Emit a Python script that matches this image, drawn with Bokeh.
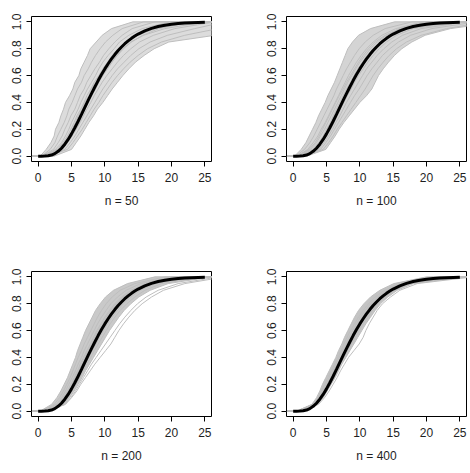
from bokeh.plotting import figure
from bokeh.layouts import gridplot
from bokeh.models import Range1d, FixedTicker, NumeralTickFormatter
from bokeh.embed import file_html
from bokeh.resources import INLINE

# Probability levels at which each empirical CDF is described
levels = [0.00, 0.05, 0.10, 0.15, 0.20, 0.25, 0.30, 0.35, 0.40, 0.45, 0.50,
          0.55, 0.60, 0.65, 0.70, 0.75, 0.80, 0.85, 0.90, 0.95, 1.00]

# Reference distribution function (thick black curve)
cdf_x = [0, 0.5, 1, 1.5, 2, 2.5, 3, 3.5, 4, 4.5, 5, 5.5, 6, 6.5, 7, 7.5, 8, 8.5,
         9, 9.5, 10, 10.5, 11, 11.5, 12, 12.5, 13, 13.5, 14, 14.5, 15, 16, 17,
         18, 19, 20, 21, 22, 23, 24, 25]
cdf_y = [0.0, 0.0000, 0.0006, 0.0028, 0.0081, 0.0186, 0.0357, 0.0589, 0.0889,
         0.1245, 0.1657, 0.2113, 0.2599, 0.3108, 0.3629, 0.4146, 0.4660, 0.5152,
         0.5627, 0.6074, 0.6495, 0.6882, 0.7243, 0.7566, 0.7867, 0.8131, 0.8374,
         0.8583, 0.8775, 0.8942, 0.9091, 0.9331, 0.9514, 0.9651, 0.9748, 0.9821,
         0.9874, 0.9911, 0.9938, 0.9957, 0.9970]

x_ticks = [0, 5, 10, 15, 20, 25]
y_ticks = [0.0, 0.2, 0.4, 0.6, 0.8, 1.0]
sample_sizes = [50, 100, 200, 400]

# Empirical CDFs: x position where each curve reaches every level in `levels`
ecdf_n50 = [
    [0.3, 1.2, 1.9, 2.4, 2.6, 3.1, 3.4, 3.8, 4.1, 4.7, 5.2, 5.5, 6.1, 6.4, 6.9, 7.4, 7.8, 8.7, 9.6, 11.0, 14.2],
    [0.5, 1.8, 2.5, 2.9, 3.4, 3.9, 4.3, 4.6, 5.1, 5.5, 5.9, 6.5, 6.9, 7.5, 8.0, 8.6, 9.3, 10.1, 11.2, 12.6, 15.8],
    [0.6, 2.3, 3.0, 3.6, 4.0, 4.5, 4.9, 5.5, 5.9, 6.3, 6.9, 7.3, 7.9, 8.5, 9.2, 9.8, 10.6, 11.5, 12.6, 14.1, 17.5],
    [0.9, 2.6, 3.5, 4.1, 4.6, 5.0, 5.5, 6.0, 6.4, 6.9, 7.4, 8.0, 8.6, 9.1, 9.7, 10.5, 11.4, 12.2, 13.6, 15.6, 19.8],
    [0.4, 2.9, 3.7, 4.4, 4.9, 5.4, 5.8, 6.4, 6.9, 7.3, 7.9, 8.4, 9.1, 9.7, 10.4, 11.1, 12.0, 13.2, 14.5, 16.9, 21.5],
    [1.0, 3.2, 4.2, 4.7, 5.3, 5.7, 6.2, 6.7, 7.2, 7.8, 8.2, 8.8, 9.5, 10.3, 11.0, 11.9, 12.8, 14.0, 15.7, 18.1, 23.0],
    [0.8, 3.6, 4.4, 5.1, 5.7, 6.3, 6.8, 7.3, 7.9, 8.4, 9.0, 9.6, 10.3, 11.1, 11.9, 12.8, 13.9, 15.2, 17.3, 20.5, 26.5],
    [1.2, 4.0, 4.8, 5.5, 6.1, 6.7, 7.3, 7.9, 8.5, 9.1, 9.7, 10.4, 11.1, 11.9, 12.9, 13.9, 15.1, 16.8, 19.4, 23.5, 28.0],
    [1.5, 4.4, 5.2, 5.9, 6.6, 7.2, 7.8, 8.4, 9.1, 9.7, 10.4, 11.1, 11.9, 12.8, 13.8, 15.0, 16.4, 18.5, 22.0, 27.0, 30.0],
    [2.4, 5.0, 5.7, 6.4, 7.0, 7.6, 8.3, 8.9, 9.7, 10.4, 11.1, 11.9, 12.7, 13.6, 14.6, 15.9, 17.4, 19.6, 26.5, 30.0, 34.0],
    [0.7, 3.0, 3.9, 4.6, 5.1, 5.6, 6.0, 6.6, 7.0, 7.6, 8.0, 8.6, 9.2, 9.8, 10.5, 11.3, 12.2, 13.3, 14.9, 17.6, 22.5],
    [1.1, 3.4, 4.3, 5.0, 5.5, 6.0, 6.5, 7.0, 7.5, 8.0, 8.6, 9.1, 9.7, 10.4, 11.1, 11.8, 12.7, 13.9, 15.8, 19.0, 25.0],
]

ecdf_n100 = [
    [0.2, 1.2, 1.9, 2.4, 2.9, 3.4, 3.8, 4.3, 4.8, 5.2, 5.7, 6.2, 6.6, 7.0, 7.4, 7.8, 8.2, 8.9, 9.8, 11.6, 15.2],
    [0.4, 1.7, 2.5, 3.1, 3.6, 4.1, 4.6, 5.1, 5.6, 6.1, 6.5, 7.0, 7.5, 8.0, 8.6, 9.2, 9.9, 10.8, 12.0, 13.8, 17.8],
    [0.6, 2.2, 3.0, 3.7, 4.2, 4.8, 5.3, 5.8, 6.3, 6.8, 7.3, 7.8, 8.3, 8.9, 9.5, 10.2, 11.0, 12.0, 13.3, 15.4, 19.5],
    [0.5, 2.6, 3.5, 4.1, 4.7, 5.2, 5.7, 6.2, 6.7, 7.2, 7.7, 8.2, 8.8, 9.4, 10.0, 10.8, 11.6, 12.6, 14.0, 16.2, 21.0],
    [0.8, 2.9, 3.8, 4.5, 5.0, 5.6, 6.0, 6.5, 7.0, 7.5, 8.0, 8.6, 9.1, 9.7, 10.4, 11.1, 12.0, 13.0, 14.4, 16.6, 22.5],
    [0.7, 3.2, 4.1, 4.8, 5.3, 5.8, 6.3, 6.8, 7.3, 7.8, 8.3, 8.9, 9.5, 10.1, 10.8, 11.5, 12.4, 13.5, 14.9, 17.3, 23.5],
    [1.0, 3.5, 4.3, 5.0, 5.6, 6.1, 6.6, 7.1, 7.6, 8.1, 8.7, 9.2, 9.8, 10.5, 11.2, 12.0, 12.9, 14.0, 15.5, 18.0, 24.5],
    [0.9, 3.8, 4.6, 5.3, 5.9, 6.4, 7.0, 7.5, 8.0, 8.6, 9.2, 9.8, 10.4, 11.0, 11.8, 12.6, 13.6, 14.8, 16.4, 19.2, 26.0],
    [1.3, 4.1, 4.9, 5.6, 6.2, 6.8, 7.4, 8.0, 8.6, 9.2, 9.9, 10.5, 11.1, 11.8, 12.6, 13.4, 14.5, 15.8, 17.6, 20.8, 27.5],
    [1.6, 4.5, 5.3, 6.0, 6.6, 7.3, 8.0, 8.7, 9.4, 10.1, 10.8, 11.4, 12.0, 12.7, 13.5, 14.4, 15.5, 17.0, 19.2, 23.0, 29.0],
    [2.0, 4.9, 5.6, 6.3, 6.9, 7.6, 8.4, 9.2, 10.0, 11.0, 11.8, 12.3, 12.8, 13.5, 14.3, 15.2, 16.3, 17.8, 19.8, 23.6, 31.0],
    [0.6, 2.4, 3.3, 3.9, 4.4, 4.9, 5.4, 5.9, 6.4, 6.9, 7.5, 8.0, 8.6, 9.2, 9.8, 10.5, 11.3, 12.3, 13.8, 15.9, 20.5],
]

ecdf_n200 = [
    [0.3, 2.0, 2.8, 3.4, 3.9, 4.4, 4.8, 5.2, 5.6, 5.9, 6.3, 6.7, 7.1, 7.6, 8.1, 8.6, 9.3, 10.1, 11.3, 13.4, 17.5],
    [0.4, 2.4, 3.2, 3.8, 4.3, 4.8, 5.2, 5.6, 6.0, 6.5, 6.9, 7.4, 7.9, 8.4, 8.9, 9.5, 10.2, 11.1, 12.3, 14.5, 19.0],
    [0.5, 2.7, 3.5, 4.1, 4.6, 5.1, 5.6, 6.0, 6.5, 6.9, 7.4, 7.9, 8.4, 8.9, 9.5, 10.2, 10.9, 11.9, 13.2, 15.4, 20.0],
    [0.6, 2.9, 3.7, 4.4, 4.9, 5.4, 5.9, 6.3, 6.8, 7.3, 7.8, 8.3, 8.8, 9.4, 10.0, 10.7, 11.5, 12.5, 13.9, 16.1, 21.0],
    [0.5, 3.1, 3.9, 4.6, 5.1, 5.6, 6.1, 6.6, 7.1, 7.6, 8.1, 8.6, 9.2, 9.8, 10.4, 11.1, 11.9, 12.9, 14.3, 16.6, 22.0],
    [0.7, 3.3, 4.1, 4.8, 5.3, 5.9, 6.4, 6.9, 7.4, 7.9, 8.4, 8.9, 9.5, 10.1, 10.8, 11.5, 12.3, 13.4, 14.8, 17.1, 23.0],
    [0.8, 3.5, 4.3, 4.9, 5.5, 6.1, 6.6, 7.1, 7.6, 8.1, 8.7, 9.2, 9.8, 10.4, 11.1, 11.9, 12.8, 13.9, 15.3, 17.7, 24.0],
    [0.9, 3.7, 4.5, 5.1, 5.7, 6.3, 6.8, 7.3, 7.9, 8.4, 9.0, 9.6, 10.2, 10.8, 11.5, 12.3, 13.3, 14.5, 16.0, 18.5, 25.0],
    [1.0, 3.9, 4.7, 5.4, 6.0, 6.6, 7.1, 7.7, 8.3, 8.9, 9.5, 10.1, 10.7, 11.4, 12.1, 12.9, 13.9, 15.1, 16.8, 19.5, 26.0],
    [1.1, 4.0, 4.9, 5.6, 6.2, 6.8, 7.4, 8.0, 8.7, 9.4, 10.1, 10.8, 11.5, 12.2, 13.0, 13.9, 14.9, 16.2, 18.0, 21.0, 27.0],
    [1.2, 4.1, 5.0, 5.8, 6.4, 7.1, 7.8, 8.5, 9.3, 10.1, 10.9, 11.5, 12.1, 12.8, 13.6, 14.5, 15.6, 17.0, 18.8, 22.0, 28.0],
    [0.6, 3.0, 3.8, 4.5, 5.0, 5.5, 6.0, 6.5, 7.0, 7.5, 8.0, 8.5, 9.0, 9.6, 10.2, 10.9, 11.7, 12.7, 14.1, 16.3, 21.5],
]

ecdf_n400 = [
    [0.5, 2.8, 3.5, 4.0, 4.4, 4.9, 5.4, 5.9, 6.4, 6.8, 7.3, 7.7, 8.2, 8.7, 9.2, 9.8, 10.6, 11.6, 13.0, 15.1, 20.0],
    [0.6, 2.9, 3.7, 4.2, 4.7, 5.2, 5.7, 6.2, 6.7, 7.2, 7.6, 8.1, 8.6, 9.2, 9.8, 10.5, 11.3, 12.3, 13.7, 15.8, 21.0],
    [0.5, 3.0, 3.8, 4.4, 4.9, 5.4, 5.9, 6.4, 6.9, 7.4, 7.9, 8.4, 8.9, 9.5, 10.1, 10.8, 11.6, 12.7, 14.1, 16.2, 22.0],
    [0.7, 3.1, 3.9, 4.5, 5.1, 5.6, 6.1, 6.6, 7.1, 7.6, 8.1, 8.6, 9.2, 9.8, 10.4, 11.1, 11.9, 13.0, 14.4, 16.6, 23.0],
    [0.6, 3.2, 4.0, 4.7, 5.2, 5.8, 6.3, 6.8, 7.3, 7.8, 8.3, 8.8, 9.4, 10.0, 10.6, 11.3, 12.2, 13.2, 14.6, 16.9, 24.0],
    [0.8, 3.3, 4.2, 4.8, 5.4, 5.9, 6.4, 6.9, 7.4, 7.9, 8.4, 9.0, 9.6, 10.2, 10.9, 11.6, 12.5, 13.5, 14.9, 17.2, 25.0],
    [0.7, 3.4, 4.3, 5.0, 5.5, 6.0, 6.6, 7.1, 7.6, 8.1, 8.7, 9.3, 9.9, 10.5, 11.2, 11.9, 12.8, 13.8, 15.2, 17.5, 25.5],
    [0.9, 3.6, 4.5, 5.1, 5.7, 6.3, 6.8, 7.3, 7.9, 8.5, 9.1, 9.7, 10.3, 10.9, 11.6, 12.3, 13.1, 14.2, 15.6, 18.0, 26.0],
    [1.0, 3.8, 4.7, 5.4, 6.0, 6.6, 7.1, 7.7, 8.3, 9.1, 9.9, 10.5, 10.9, 11.4, 12.0, 12.6, 13.4, 14.6, 16.0, 18.6, 27.0],
    [0.8, 3.2, 4.1, 4.7, 5.3, 5.8, 6.3, 6.8, 7.3, 7.8, 8.3, 8.9, 9.5, 10.1, 10.7, 11.4, 12.3, 13.3, 14.7, 17.0, 24.5],
]

# Curves that stand apart from the dense core of each panel
outliers_n50 = []
outliers_n100 = []
outliers_n200 = [9, 10]
outliers_n400 = [8]

TEXT = "#1e1e1e"
FONT = "Liberation Sans"


def make_panel(n, curves, outliers, band_fill, border, height):
    left, right, top, bottom = border
    p = figure(width=235, height=height, output_backend="svg", toolbar_location=None,
               x_range=Range1d(-1, 26), y_range=Range1d(-0.04, 1.04),
               min_border_left=left, min_border_right=right,
               min_border_top=top, min_border_bottom=bottom)
    p.xgrid.visible = False
    p.ygrid.visible = False
    p.outline_line_color = "black"
    p.outline_line_width = 1
    p.background_fill_color = "white"
    p.border_fill_color = "white"

    # shaded core of the bundle of empirical curves
    core = [c for i, c in enumerate(curves) if i not in outliers]
    lo = [min(c[i] for c in core) for i in range(len(levels))]
    hi = [max(c[i] for c in core) for i in range(len(levels))]
    p.patch(lo + hi[::-1], levels + levels[::-1], fill_color=band_fill,
            line_color=None)

    for c in curves:
        p.line([-1] + c + [27], [0.0] + levels + [1.0],
               line_color="#bebebe", line_width=1)

    p.line(cdf_x, cdf_y, line_color="black", line_width=3)

    for ax in (p.xaxis[0], p.yaxis[0]):
        ax.axis_line_color = "black"
        ax.major_tick_line_color = "black"
        ax.major_tick_in = 0
        ax.major_tick_out = 5
        ax.minor_tick_line_color = None
        ax.major_label_text_font = FONT
        ax.major_label_text_font_size = "12px"
        ax.major_label_text_color = TEXT

    p.xaxis.ticker = FixedTicker(ticks=x_ticks, minor_ticks=[])
    p.xaxis.bounds = (0, 25)
    p.xaxis.major_label_standoff = 6
    p.xaxis.axis_label = f"n = {n}"
    p.xaxis.axis_label_text_font = FONT
    p.xaxis.axis_label_text_font_size = "12px"
    p.xaxis.axis_label_text_font_style = "normal"
    p.xaxis.axis_label_text_color = TEXT
    p.xaxis.axis_label_standoff = 9

    p.yaxis.ticker = FixedTicker(ticks=y_ticks, minor_ticks=[])
    p.yaxis.bounds = (0, 1)
    p.yaxis.formatter = NumeralTickFormatter(format="0.0")
    p.yaxis.major_label_orientation = "vertical"
    p.yaxis.major_label_standoff = 5
    return p


p1 = make_panel(sample_sizes[0], ecdf_n50, outliers_n50, "#dcdcdc", (31, 24, 16, 75), 236)
p2 = make_panel(sample_sizes[1], ecdf_n100, outliers_n100, "#d4d4d4", (51, 4, 16, 75), 236)
p3 = make_panel(sample_sizes[2], ecdf_n200, outliers_n200, "#c9c9c9", (31, 24, 35, 57), 237)
p4 = make_panel(sample_sizes[3], ecdf_n400, outliers_n400, "#c4c4c4", (51, 4, 35, 57), 237)

grid = gridplot([[p1, p2], [p3, p4]], toolbar_location=None)

open("out.html", "w").write(file_html(grid, INLINE))
